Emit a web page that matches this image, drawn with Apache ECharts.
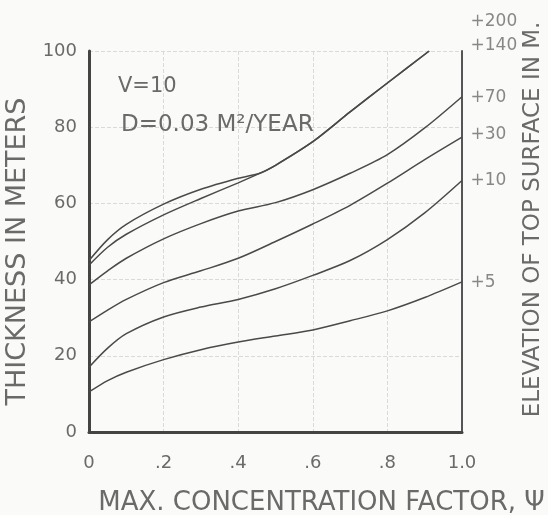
<!DOCTYPE html>
<html>
<head>
<meta charset="utf-8">
<script src="https://cdn.jsdelivr.net/npm/echarts@6/dist/echarts.min.js"></script>
<style>
  html, body { margin: 0; padding: 0; background: #fafaf8; }
  #chart { width: 548px; height: 515px; }
</style>
</head>
<body>
<div id="chart"></div>
<script>
// ---- data ----
const xTicks = [0, 0.2, 0.4, 0.6, 0.8, 1.0];
const xTickLabels = ['0', '.2', '.4', '.6', '.8', '1.0'];
const yTickLabels = ['0', '20', '40', '60', '80', '100'];

const xGrid = [0, 0.05, 0.1, 0.2, 0.3, 0.4, 0.5, 0.6, 0.7, 0.8, 0.9, 1.0];

const xTop = [0, 0.05, 0.1, 0.2, 0.3, 0.4, 0.46, 0.5, 0.6, 0.7, 0.8, 0.912];
const curve200 = [45, 50.5, 54.5, 59.8, 63.7, 66.6, 68, 70, 76.2, 84, 91.6, 100];
const curve140 = [43.8, 48.5, 51.9, 57, 61.3, 65.4, 68, 70, 76.2, 84, 91.6, 100];

const curve70 = [38.6, 42.3, 45.6, 50.7, 54.7, 58, 60.2, 63.6, 67.9, 72.8, 79.8, 88];
const curve30 = [28.9, 32, 34.8, 39.2, 42.3, 45.6, 50, 54.6, 59.5, 65.3, 71.5, 77.4];
const curve10 = [17, 22, 25.8, 30.2, 32.8, 34.8, 37.6, 41.1, 45, 50.5, 57.5, 66];
const curve5  = [10.5, 13.5, 15.7, 19, 21.6, 23.6, 25.2, 26.8, 29.2, 31.8, 35.3, 39.4];

const rightLabels = ['+200', '+140', '+70', '+30', '+10', '+5'];
const rightLabelValues = [107.6, 101.3, 87.7, 78, 66, 39.1];

const noteV = 'V=10';
const noteD = 'D=0.03 M²/YEAR';

// ---- build ----
const pairs = (xs, ys) => xs.map((x, i) => [x, ys[i]]);
const lineColor = '#4a4a4a';
const textColor = '#6a6a6a';
const font = 'DejaVu Sans';

function curve(name, xs, ys) {
  return {
    name: name, type: 'line', data: pairs(xs, ys),
    smooth: 0.3, showSymbol: false, silent: true,
    lineStyle: { color: lineColor, width: 1.5 }
  };
}

const chart = echarts.init(document.getElementById('chart'), null, { renderer: 'canvas' });
chart.setOption({
  backgroundColor: '#fafaf8',
  animation: false,
  grid: { left: 89, right: 86, top: 51, bottom: 83, containLabel: false, outerBoundsMode: 'none' },
  title: [
    { text: noteV, left: 113, top: 71, textStyle: { fontFamily: font, fontSize: 21, fontWeight: 'normal', color: textColor } },
    { text: noteD, left: 116, top: 109, textStyle: { fontFamily: font, fontSize: 23, fontWeight: 'normal', color: textColor } }
  ],
  xAxis: {
    type: 'value', min: 0, max: 1, interval: 0.2,
    name: 'MAX. CONCENTRATION FACTOR, Ψ',
    nameLocation: 'middle', nameGap: 58,
    nameTextStyle: { fontFamily: font, fontSize: 26, color: textColor, padding: [0, 0, 0, 92] },
    axisLine: { show: true, lineStyle: { color: '#444', width: 3 } },
    axisTick: { show: false },
    splitLine: { show: true, lineStyle: { color: '#dadada', type: 'dashed', width: 1 } },
    axisLabel: {
      fontFamily: font, fontSize: 18, color: textColor, margin: 22,
      formatter: v => xTickLabels[Math.round(v / 0.2)]
    }
  },
  yAxis: [
    {
      type: 'value', min: 0, max: 100, interval: 20, position: 'left',
      name: 'THICKNESS IN METERS', nameLocation: 'middle', nameGap: 48,
      nameTextStyle: { fontFamily: font, fontSize: 27, color: textColor, padding: [0, 20, 0, 0] },
      axisLine: { show: true, lineStyle: { color: '#444', width: 3 } },
      axisTick: { show: false },
      splitLine: { show: true, lineStyle: { color: '#dadada', type: 'dashed', width: 1 } },
      axisLabel: {
        fontFamily: font, fontSize: 18, color: textColor, margin: 12,
        formatter: v => yTickLabels[Math.round(v / 20)]
      }
    },
    {
      type: 'value', min: 0, max: 100, interval: 20, position: 'right',
      name: 'ELEVATION OF TOP SURFACE IN M.', nameLocation: 'middle', nameGap: 60,
      nameTextStyle: { fontFamily: font, fontSize: 23, color: textColor, padding: [0, 0, 0, 44] },
      axisLine: { show: true, lineStyle: { color: '#555', width: 2 } },
      axisTick: { show: false },
      axisLabel: { show: false },
      splitLine: { show: false }
    }
  ],
  series: [
    curve('+200', xTop, curve200),
    curve('+140', xTop, curve140),
    curve('+70', xGrid, curve70),
    curve('+30', xGrid, curve30),
    curve('+10', xGrid, curve10),
    curve('+5', xGrid, curve5),
    {
      name: 'elevation labels', type: 'scatter', clip: false, silent: true,
      data: rightLabelValues.map((v, i) => [1.0, v, rightLabels[i]]),
      symbolSize: 1, itemStyle: { color: 'rgba(0,0,0,0)' },
      label: {
        show: true, position: 'right', distance: 8,
        fontFamily: font, fontSize: 17, color: textColor,
        formatter: p => p.data[2]
      }
    }
  ]
});
</script>
</body>
</html>
